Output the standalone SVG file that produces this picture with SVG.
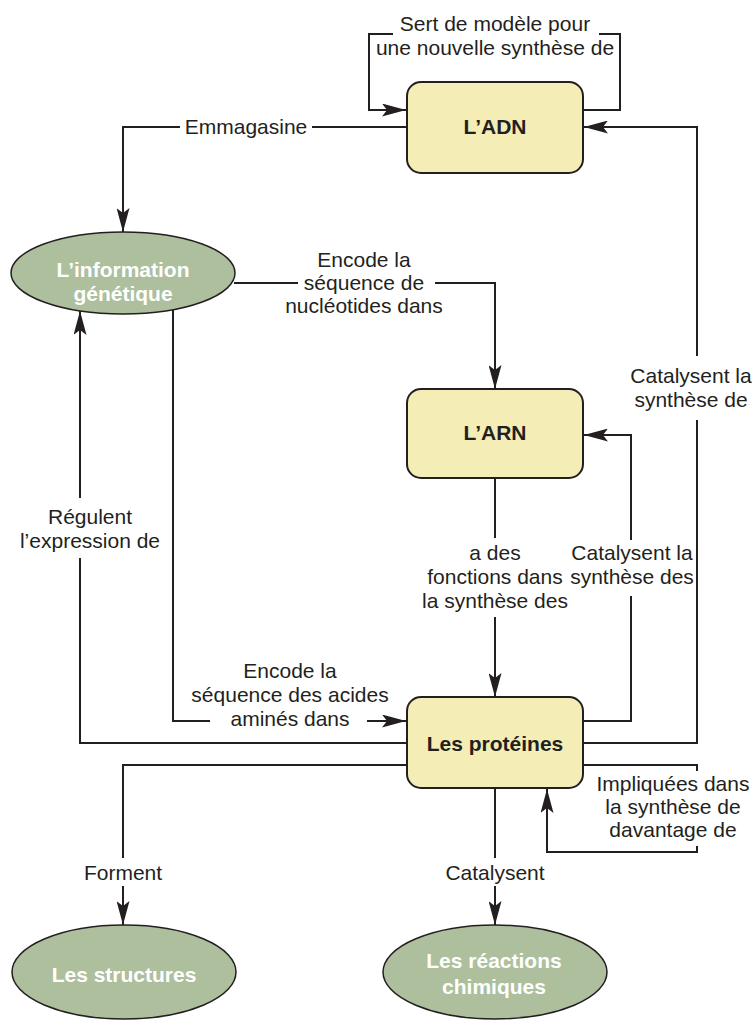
<svg xmlns="http://www.w3.org/2000/svg" width="755" height="1020" viewBox="0 0 755 1020">
<style>
.box{fill:#f4edb6;stroke:#231f20;stroke-width:2}
.ell{fill:#adbf9d;stroke:#231f20;stroke-width:1.5}
.c{fill:none;stroke:#231f20;stroke-width:2}
.t{font-family:"Liberation Sans",Arial,sans-serif;font-size:21px;fill:#231f20;text-anchor:middle}
.b{font-family:"Liberation Sans",Arial,sans-serif;font-size:21px;font-weight:bold;fill:#231f20;text-anchor:middle}
.w{font-family:"Liberation Sans",Arial,sans-serif;font-size:21px;font-weight:bold;fill:#ffffff;text-anchor:middle}
</style>
<defs>
<marker id="ah" viewBox="0 0 24 13" refX="24" refY="6.5" markerWidth="24" markerHeight="13" markerUnits="userSpaceOnUse" orient="auto">
<path d="M0,0 L24,6.5 L0,13 L5,6.5 z" fill="#231f20"/>
</marker>
</defs>
<rect width="755" height="1020" fill="#ffffff"/>
<g id="connectors">
<path class="c" d="M583,110 H620 V34 H599"/>
<path class="c" d="M393,34 H369 V110 H406" marker-end="url(#ah)"/>
<path class="c" d="M407,127 H312"/>
<path class="c" d="M180,127 H123 V232" marker-end="url(#ah)"/>
<path class="c" d="M234,283 H298"/>
<path class="c" d="M435,283 H495 V389" marker-end="url(#ah)"/>
<path class="c" d="M495,478 V538"/>
<path class="c" d="M495,617 V697" marker-end="url(#ah)"/>
<path class="c" d="M583,721 H631 V596"/>
<path class="c" d="M631,540 V435 H584" marker-end="url(#ah)"/>
<path class="c" d="M583,743 H697 V420"/>
<path class="c" d="M697,356 V127 H584" marker-end="url(#ah)"/>
<path class="c" d="M407,743 H80 V558"/>
<path class="c" d="M80,498 V311" marker-end="url(#ah)"/>
<path class="c" d="M173,308 V721 H210"/>
<path class="c" d="M367,721 H406" marker-end="url(#ah)"/>
<path class="c" d="M583,765 H697 V771"/>
<path class="c" d="M697,846 V852 H547 V789" marker-end="url(#ah)"/>
<path class="c" d="M407,765 H123 V858"/>
<path class="c" d="M123,886 V925" marker-end="url(#ah)"/>
<path class="c" d="M495,788 V858"/>
<path class="c" d="M495,886 V925" marker-end="url(#ah)"/>
</g>
<g id="labels">
<text class="t" x="495" y="31">Sert de modèle pour</text>
<text class="t" x="495" y="55">une nouvelle synthèse de</text>
<text class="t" x="246" y="134">Emmagasine</text>
<text class="t" x="364" y="267">Encode la</text>
<text class="t" x="364" y="290">séquence de</text>
<text class="t" x="364" y="313">nucléotides dans</text>
<text class="t" x="691" y="383">Catalysent la</text>
<text class="t" x="691" y="407">synthèse de</text>
<text class="t" x="90" y="524">Régulent</text>
<text class="t" x="90" y="548">l’expression de</text>
<text class="t" x="495" y="560">a des</text>
<text class="t" x="495" y="584">fonctions dans</text>
<text class="t" x="495" y="608">la synthèse des</text>
<text class="t" x="632" y="560">Catalysent la</text>
<text class="t" x="632" y="584">synthèse des</text>
<text class="t" x="290" y="678">Encode la</text>
<text class="t" x="290" y="702">séquence des acides</text>
<text class="t" x="290" y="726">aminés dans</text>
<text class="t" x="673" y="791">Impliquées dans</text>
<text class="t" x="673" y="814">la synthèse de</text>
<text class="t" x="673" y="837">davantage de</text>
<text class="t" x="123" y="880">Forment</text>
<text class="t" x="495" y="880">Catalysent</text>
</g>
<g id="adn">
<rect class="box" x="407" y="82" width="176" height="91" rx="14"/>
<text class="b" x="495" y="134">L’ADN</text>
</g>
<g id="info">
<ellipse class="ell" cx="123" cy="273" rx="112" ry="41"/>
<text class="w" x="123" y="277">L’information</text>
<text class="w" x="123" y="301">génétique</text>
</g>
<g id="arn">
<rect class="box" x="407" y="389" width="176" height="89" rx="14"/>
<text class="b" x="495" y="440">L’ARN</text>
</g>
<g id="proteines">
<rect class="box" x="407" y="697" width="176" height="91" rx="14"/>
<text class="b" x="495" y="751">Les protéines</text>
</g>
<g id="structures">
<ellipse class="ell" cx="124" cy="972" rx="112" ry="47"/>
<text class="w" x="124" y="982">Les structures</text>
</g>
<g id="reactions">
<ellipse class="ell" cx="495" cy="972" rx="112" ry="47"/>
<text class="w" x="494" y="968">Les réactions</text>
<text class="w" x="494" y="994">chimiques</text>
</g>
</svg>
